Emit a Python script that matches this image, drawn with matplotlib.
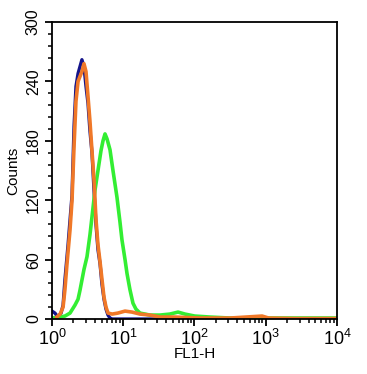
import matplotlib
matplotlib.use('Agg')
from matplotlib import pyplot as plt
from matplotlib.ticker import MultipleLocator, LogLocator, FixedLocator

plt.rcParams['font.family'] = ['Liberation Sans', 'DejaVu Sans']
plt.rcParams['mathtext.fontset'] = 'custom'
plt.rcParams['mathtext.rm'] = 'Liberation Sans'
plt.rcParams['mathtext.it'] = 'Liberation Sans'

# FL1-H channel values and counts
blue_x = [1.00, 1.10, 1.21, 1.34, 1.43, 1.52, 1.68, 1.79, 1.91, 2.04, 2.17,
          2.32, 2.47, 2.63, 2.81, 3.00, 3.20, 3.41, 3.64, 3.89, 4.15, 4.42,
          4.72, 5.03, 5.37, 5.73, 6.11, 6.52, 7.0, 20.0, 100.0, 1000.0, 10000.0]
blue_y = [8, 6, 2, 6, 14, 40, 75, 100, 125, 195, 235,
          248, 255, 262, 255, 235, 218, 190, 168, 130, 95, 70,
          56, 35, 20, 10, 4, 1, 0, 0, 0, 0, 0]

orange_x = [1.17, 1.30, 1.43, 1.52, 1.62, 1.79, 1.91, 2.04, 2.17, 2.32, 2.47,
            2.63, 2.81, 3.00, 3.20, 3.41, 3.64, 3.89, 4.15, 4.42, 4.72, 5.03,
            5.37, 5.73, 6.11, 7.0, 8.4, 10.6, 13.3, 17.2, 23.7, 32.8, 53.0,
            120.0, 315.0, 890.0, 1100.0, 2600.0, 10000.0]
orange_y = [2, 5, 12, 30, 55, 90, 120, 175, 220, 240, 245,
            250, 258, 250, 225, 200, 170, 140, 100, 75, 58, 40,
            22, 12, 6, 5, 6, 8, 7, 5, 4, 2, 2,
            1, 1, 3, 1, 0.5, 0.5]

green_x = [1.00, 1.30, 1.52, 1.79, 2.10, 2.32, 2.47, 2.81, 3.10, 3.41, 3.64,
           4.01, 4.42, 4.87, 5.20, 5.55, 5.92, 6.52, 7.18, 8.17, 9.0, 9.6,
           10.6, 11.3, 12.4, 13.7, 15.1, 17.2, 23.7, 32.8, 45.2, 58.8, 73.6,
           101.0, 165.0, 315.0, 825.0, 10000.0]
green_y = [1, 2, 3, 6, 14, 20, 29, 50, 63, 85, 103,
           130, 150, 170, 180, 187, 182, 171, 150, 123, 98, 80,
           60, 46, 30, 16, 10, 6, 4, 4, 5, 7, 5,
           3, 2, 1, 1, 1]

fig = plt.figure(figsize=(3.67, 3.74), dpi=100)
ax = fig.add_axes([0.1417, 0.147, 0.7763, 0.794])

ax.plot(blue_x, blue_y, color='#14148a', linewidth=2.4)
ax.plot(green_x, green_y, color='#33ee33', linewidth=2.6)
ax.plot(orange_x, orange_y, color='#f07828', linewidth=2.6)

ax.set_xscale('log')
ax.set_xlim(1, 10000)
ax.set_ylim(0, 300)

ax.yaxis.set_major_locator(MultipleLocator(60))
ax.yaxis.set_minor_locator(MultipleLocator(12))
ax.xaxis.set_major_locator(FixedLocator([1, 10, 100, 1000, 10000]))
ax.xaxis.set_minor_locator(LogLocator(base=10, subs=range(2, 10)))
ax.set_xticklabels(['$10^0$', '$10^1$', '$10^2$', '$10^3$', '$10^4$'])

for lbl in ax.get_yticklabels():
    lbl.set_rotation(90)
    lbl.set_va('center')

ax.tick_params(axis='both', which='major', direction='out', length=5,
               width=1.3, colors='black')
ax.tick_params(axis='y', which='major', labelsize=11.5, pad=3)
ax.tick_params(axis='x', which='major', labelsize=13, pad=2)
ax.tick_params(axis='both', which='minor', direction='out', length=3,
               width=1.1)

for sp in ax.spines.values():
    sp.set_linewidth(1.3)

ax.set_xlabel('FL1-H', fontsize=11, labelpad=-1)
ax.set_ylabel('Counts', fontsize=11, labelpad=4)

plt.savefig('out.png', dpi=100)
